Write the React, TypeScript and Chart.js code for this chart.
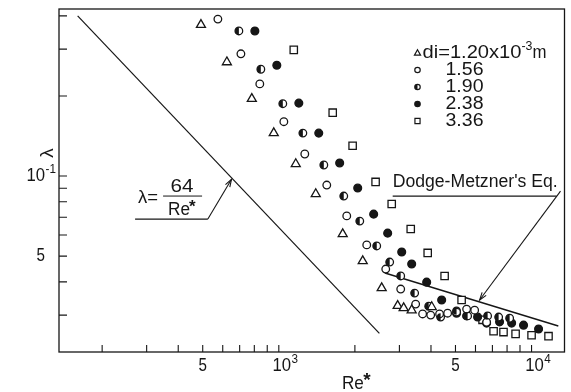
import { useEffect, useRef } from "react";
import { Chart, registerables } from "chart.js";

Chart.register(...registerables);

// Friction factor λ against Re* for each inner diameter di (x10^-3 m)
const RE_D120 = [492, 623, 782, 955, 1167, 1400, 1790, 2148, 2553, 2953, 3119, 3355, 4027];
const LAMBDA_D120 = [0.37, 0.268, 0.195, 0.145, 0.111, 0.0856, 0.0605, 0.0479, 0.0379, 0.0325, 0.0319, 0.0313, 0.0322];

const RE_D156 = [574, 708, 841, 1047, 1267, 1548, 1857, 2228, 2649, 3036, 3479, 3707, 3990, 4326, 4655, 5050, 5534, 5954, 6640];
const LAMBDA_D156 = [0.389, 0.288, 0.222, 0.16, 0.121, 0.0925, 0.0708, 0.0551, 0.0447, 0.0376, 0.033, 0.0303, 0.03, 0.0303, 0.0305, 0.0308, 0.0316, 0.0313, 0.0282];

const RE_D190 = [695, 849, 1037, 1245, 1507, 1807, 2091, 2440, 2746, 3036, 3447, 3918, 4367, 5050, 5585, 6700, 7410, 8190];
const LAMBDA_D190 = [0.351, 0.252, 0.187, 0.145, 0.11, 0.0841, 0.0677, 0.0546, 0.0475, 0.0421, 0.0363, 0.0324, 0.0295, 0.0311, 0.0298, 0.0298, 0.0295, 0.0292];

const RE_D238 = [804, 982, 1200, 1439, 1741, 2052, 2373, 2696, 3064, 3355, 3846, 4409, 5050, 5534, 6117, 6640, 7472, 8340, 9296, 10660];
const LAMBDA_D238 = [0.351, 0.261, 0.188, 0.145, 0.112, 0.0901, 0.0719, 0.061, 0.0518, 0.0467, 0.0399, 0.0342, 0.0305, 0.0298, 0.0295, 0.028, 0.0283, 0.028, 0.0275, 0.0266];

const RE_D336 = [1146, 1634, 1959, 2415, 2797, 3326, 3882, 4529, 5287, 6398, 7075, 7745, 8646, 10000, 11670];
const LAMBDA_D336 = [0.298, 0.173, 0.13, 0.095, 0.0785, 0.0632, 0.0514, 0.0421, 0.0342, 0.0288, 0.0261, 0.0259, 0.0255, 0.0252, 0.025];

// Laminar line λ = 64/Re* and the Dodge-Metzner correlation
const LAMINAR_RE = [160, 2500];
const DM_RE = [2630, 12760];
const DM_LAMBDA = [0.0432, 0.0273];

// Axis ranges and ticks
const RE_RANGE = [135, 13500];
const LAMBDA_RANGE = [0.0218, 0.4245];
const X_TICKS = [200, 300, 400, 500, 600, 700, 800, 900, 1000, 2000, 3000, 4000, 5000, 6000, 7000, 8000, 9000, 10000];
const Y_TICKS = [0.03, 0.04, 0.05, 0.06, 0.07, 0.08, 0.09, 0.1, 0.2, 0.3, 0.4];
const X_TICK_LABELS = [
  { v: 500, base: "5", exp: "" },
  { v: 1000, base: "10", exp: "3" },
  { v: 5000, base: "5", exp: "" },
  { v: 10000, base: "10", exp: "4" },
];
const Y_TICK_LABELS = [
  { v: 0.1, base: "10", exp: "-1" },
  { v: 0.05, base: "5", exp: "" },
];

const LEGEND_VALUES = ["1.20", "1.56", "1.90", "2.38", "3.36"];

// Callout anchors in data units (Re*, λ)
const LAMINAR_TAG = { re0: 270, re1: 524, lambda: 0.0689, tipRe: 650 };
const DM_TAG = { re0: 2822, re1: 12555, lambda: 0.0841, fromRe: 13020, fromLambda: 0.0878, tipRe: 6230, tipLambda: 0.0342 };

const INK = "#161616";
const FONT = '"Liberation Sans", Arial, sans-serif';

type Kind = "tri" | "ring" | "half" | "dot" | "square";

// Small marker glyphs for the key
function drawMark(ctx: CanvasRenderingContext2D, kind: Kind, x: number, y: number, r: number) {
  ctx.save();
  ctx.strokeStyle = INK;
  ctx.fillStyle = "#fff";
  ctx.lineWidth = 1.2;
  ctx.beginPath();
  if (kind === "tri") {
    ctx.moveTo(x, y - r);
    ctx.lineTo(x + r * 0.95, y + r * 0.65);
    ctx.lineTo(x - r * 0.95, y + r * 0.65);
    ctx.closePath();
    ctx.stroke();
  } else if (kind === "square") {
    ctx.rect(x - r * 0.8, y - r * 0.8, r * 1.6, r * 1.6);
    ctx.stroke();
  } else {
    ctx.arc(x, y, r * 0.85, 0, Math.PI * 2);
    if (kind === "dot") {
      ctx.fillStyle = INK;
      ctx.fill();
    }
    ctx.stroke();
    if (kind === "half") {
      ctx.beginPath();
      ctx.arc(x, y, r * 0.85, Math.PI / 2, Math.PI * 1.5);
      ctx.closePath();
      ctx.fillStyle = INK;
      ctx.fill();
    }
  }
  ctx.restore();
}

// Draw text squeezed horizontally to a given width (or by a given factor)
function text(
  ctx: CanvasRenderingContext2D,
  s: string,
  x: number,
  y: number,
  size: number,
  opts: { align?: "left" | "center" | "right"; width?: number; sx?: number; bold?: boolean } = {}
): number {
  ctx.save();
  ctx.font = `${opts.bold ? "bold " : ""}${size}px ${FONT}`;
  ctx.textBaseline = "middle";
  ctx.textAlign = "left";
  ctx.fillStyle = INK;
  const natural = ctx.measureText(s).width;
  const sx = opts.width ? opts.width / natural : opts.sx ?? 0.9;
  const w = natural * sx;
  const left = opts.align === "center" ? x - w / 2 : opts.align === "right" ? x - w : x;
  ctx.translate(left, y);
  ctx.scale(sx, 1);
  ctx.fillText(s, 0, 0);
  ctx.restore();
  return w;
}

function line(ctx: CanvasRenderingContext2D, pts: number[][], lw = 1.2) {
  ctx.save();
  ctx.strokeStyle = INK;
  ctx.lineWidth = lw;
  ctx.beginPath();
  pts.forEach(([x, y], i) => (i ? ctx.lineTo(x, y) : ctx.moveTo(x, y)));
  ctx.stroke();
  ctx.restore();
}

function arrow(ctx: CanvasRenderingContext2D, x0: number, y0: number, x1: number, y1: number) {
  line(ctx, [[x0, y0], [x1, y1]], 1.1);
  const a = Math.atan2(y1 - y0, x1 - x0);
  const len = 8;
  const spread = 0.32;
  line(ctx, [
    [x1 - len * Math.cos(a - spread), y1 - len * Math.sin(a - spread)],
    [x1, y1],
    [x1 - len * Math.cos(a + spread), y1 - len * Math.sin(a + spread)],
  ], 1.1);
}

export default function App() {
  const ref = useRef<HTMLCanvasElement | null>(null);

  useEffect(() => {
    if (!ref.current) return;

    const series = [
      { re: RE_D120, lam: LAMBDA_D120, style: "triangle", radius: 5.2, fill: "#fff" },
      { re: RE_D156, lam: LAMBDA_D156, style: "circle", radius: 3.8, fill: "#fff" },
      { re: RE_D190, lam: LAMBDA_D190, style: "circle", radius: 3.8, fill: "#fff" },
      { re: RE_D238, lam: LAMBDA_D238, style: "circle", radius: 3.9, fill: INK },
      { re: RE_D336, lam: LAMBDA_D336, style: "rect", radius: 5.2, fill: "#fff" },
    ];
    const HALF_INDEX = 2;

    const frame = {
      id: "frameAndNotes",
      beforeDatasetsDraw(chart: Chart) {
        const { ctx, chartArea: a } = chart;
        const xs = chart.scales.x;
        const ys = chart.scales.y;
        ctx.save();
        ctx.strokeStyle = INK;
        ctx.lineWidth = 1.3;
        ctx.strokeRect(a.left, a.top, a.right - a.left, a.bottom - a.top);
        ctx.lineWidth = 1.1;
        ctx.beginPath();
        X_TICKS.forEach((v) => {
          const x = xs.getPixelForValue(v);
          ctx.moveTo(x, a.bottom);
          ctx.lineTo(x, a.bottom - 7);
        });
        Y_TICKS.forEach((v) => {
          const y = ys.getPixelForValue(v);
          ctx.moveTo(a.left, y);
          ctx.lineTo(a.left + 8, y);
        });
        ctx.stroke();
        ctx.restore();
      },
      afterDatasetsDraw(chart: Chart) {
        const { ctx, chartArea: a } = chart;
        const xs = chart.scales.x;
        const ys = chart.scales.y;
        const px = (v: number) => xs.getPixelForValue(v);
        const py = (v: number) => ys.getPixelForValue(v);

        // left half of each di = 1.90 marker is filled
        const r = series[HALF_INDEX].radius;
        ctx.save();
        ctx.fillStyle = INK;
        chart.getDatasetMeta(HALF_INDEX).data.forEach((el: any) => {
          ctx.beginPath();
          ctx.arc(el.x, el.y, r, Math.PI / 2, Math.PI * 1.5);
          ctx.closePath();
          ctx.fill();
        });
        ctx.restore();

        // tick labels
        X_TICK_LABELS.forEach((t) => {
          const x = px(t.v);
          const yb = a.bottom + 14;
          if (t.exp) {
            const w = text(ctx, t.base, x + 3, yb, 19, { align: "center", sx: 0.88 });
            text(ctx, t.exp, x + 3 + w / 2 + 0.5, yb - 7, 13, { sx: 0.9 });
          } else {
            text(ctx, t.base, x, yb, 19, { align: "center", sx: 0.8 });
          }
        });
        Y_TICK_LABELS.forEach((t) => {
          const y = py(t.v);
          const xr = a.left - 14;
          text(ctx, t.base, xr, y, 19, { align: "right", sx: t.exp ? 0.88 : 0.8 });
          if (t.exp) text(ctx, t.exp, xr + 0.5, y - 7, 13, { sx: 0.9 });
        });

        // axis titles
        ctx.save();
        ctx.translate(a.left - 11, a.top + 144);
        ctx.rotate(-Math.PI / 2);
        text(ctx, "λ", 0, 0, 19, { align: "center", sx: 1 });
        ctx.restore();
        const rx = a.left + 283;
        const wRe = text(ctx, "Re", rx, a.bottom + 32, 19, { sx: 0.9 });
        text(ctx, "*", rx + wRe - 0.5, a.bottom + 29, 19, { bold: true, sx: 1 });

        // λ = 64/Re* callout
        const lx0 = px(LAMINAR_TAG.re0);
        const lx1 = px(LAMINAR_TAG.re1);
        const ly = py(LAMINAR_TAG.lambda);
        const tipX = px(LAMINAR_TAG.tipRe);
        const tipY = py(64 / LAMINAR_TAG.tipRe) + 1.5;
        line(ctx, [[lx0, ly], [lx1, ly]], 1.2);
        arrow(ctx, lx1, ly, tipX, tipY);
        text(ctx, "λ=", lx0 + 3, ly - 21, 18, { width: 20 });
        text(ctx, "64", lx0 + 47, ly - 32, 18, { align: "center", width: 23 });
        line(ctx, [[lx0 + 28, ly - 23], [lx0 + 67, ly - 23]], 1);
        const wR = text(ctx, "Re", lx0 + 33, ly - 9, 18, { width: 22 });
        text(ctx, "*", lx0 + 33 + wR - 1, ly - 12, 17, { bold: true, sx: 1 });

        // Dodge-Metzner callout
        const dx0 = px(DM_TAG.re0);
        const dx1 = px(DM_TAG.re1);
        const dy = py(DM_TAG.lambda);
        line(ctx, [[dx0, dy], [dx1, dy]], 1.2);
        arrow(ctx, px(DM_TAG.fromRe), py(DM_TAG.fromLambda), px(DM_TAG.tipRe), py(DM_TAG.tipLambda));
        text(ctx, "Dodge-Metzner's Eq.", dx0, dy - 14, 18, { width: 165 });

        // key
        const gx = a.right - 147;
        const gy = a.top + 44;
        const kinds: Kind[] = ["tri", "ring", "half", "dot", "square"];
        kinds.forEach((k, i) => {
          const y = gy + i * 17;
          drawMark(ctx, k, gx, y, 3.2);
          if (i === 0) {
            const w = text(ctx, `di=${LEGEND_VALUES[0]}x10`, gx + 5, y, 18, { width: 99 });
            text(ctx, "-3", gx + 5 + w, y - 6, 12, { width: 11 });
            text(ctx, "m", gx + 5 + w + 11, y, 18, { width: 14 });
          } else {
            text(ctx, LEGEND_VALUES[i], gx + 28, y, 18, { width: 38 });
          }
        });
      },
    };

    const chart = new Chart(ref.current, {
      type: "scatter",
      data: {
        datasets: [
          ...series.map((s) => ({
            data: s.re.map((x, i) => ({ x, y: s.lam[i] })),
            pointStyle: s.style,
            pointRadius: s.radius,
            pointBackgroundColor: s.fill,
            pointBorderColor: INK,
            pointBorderWidth: 1.3,
            showLine: false,
          })),
          {
            data: LAMINAR_RE.map((x) => ({ x, y: 64 / x })),
            showLine: true,
            borderColor: INK,
            borderWidth: 1.2,
            pointRadius: 0,
          },
          {
            data: DM_RE.map((x, i) => ({ x, y: DM_LAMBDA[i] })),
            showLine: true,
            borderColor: INK,
            borderWidth: 1.4,
            pointRadius: 0,
          },
        ],
      },
      options: {
        animation: false,
        responsive: false,
        devicePixelRatio: 1,
        events: [],
        layout: { padding: { left: 59, top: 9, right: 6, bottom: 40 } },
        scales: {
          x: { type: "logarithmic", min: RE_RANGE[0], max: RE_RANGE[1], display: false },
          y: { type: "logarithmic", min: LAMBDA_RANGE[0], max: LAMBDA_RANGE[1], display: false },
        },
        plugins: { legend: { display: false }, tooltip: { enabled: false } },
      },
      plugins: [frame],
    });

    return () => chart.destroy();
  }, []);

  return (
    <div style={{ position: "fixed", left: 0, top: 0, width: 571, height: 392, background: "#fff" }}>
      <canvas ref={ref} width={571} height={392} />
    </div>
  );
}
